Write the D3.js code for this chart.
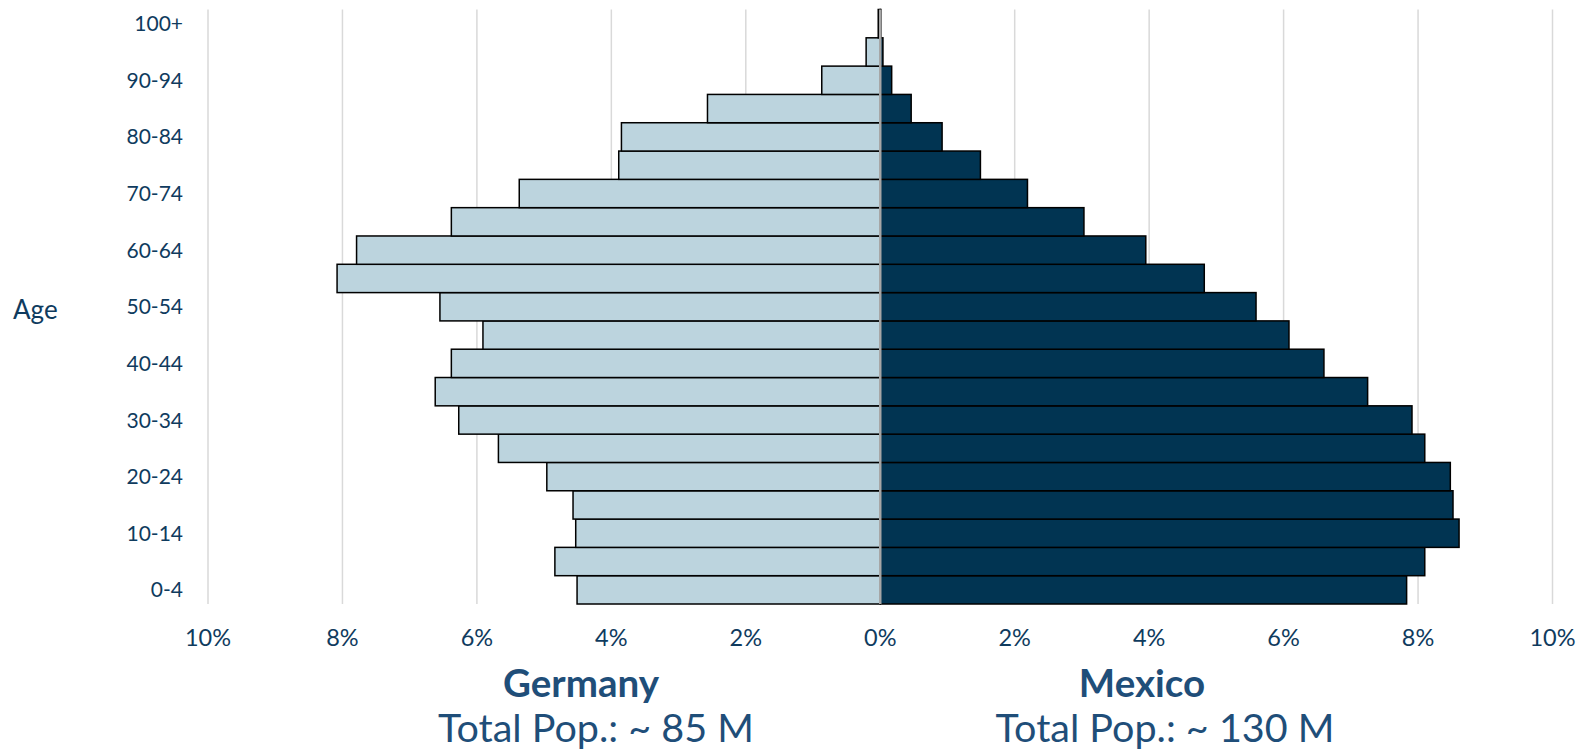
<!DOCTYPE html>
<html>
<head>
<meta charset="utf-8">
<script src="https://cdn.jsdelivr.net/npm/d3@7"></script>
<style>
  body { margin: 0; background: #fff; }
  svg { display: block; font-family: Lato, "Open Sans", sans-serif; }
  .tick-label { fill: #0f3b5e; font-size: 21px; }
  .x-label { fill: #0f3b5e; font-size: 23.5px; }
  .axis-title { fill: #0f3b5e; font-size: 26px; }
  .country { fill: #1f4e79; font-size: 38.5px; font-weight: bold; text-anchor: middle; }
  .total { fill: #1f4e79; font-size: 39.5px; text-anchor: middle; }
</style>
</head>
<body>
<div class="chart"></div>
<script>
  // age groups, bottom to top
  var ages = [
    "0-4", "5-9", "10-14", "15-19", "20-24", "25-29", "30-34", "35-39",
    "40-44", "45-49", "50-54", "55-59", "60-64", "65-69", "70-74",
    "75-79", "80-84", "85-89", "90-94", "95-99", "100+"
  ];
  // share of population, %
  var germany = [
    4.51, 4.84, 4.53, 4.57, 4.96, 5.68, 6.27, 6.62,
    6.38, 5.91, 6.55, 8.08, 7.79, 6.38, 5.37,
    3.89, 3.85, 2.57, 0.87, 0.21, 0.03
  ];
  var mexico = [
    7.83, 8.10, 8.61, 8.52, 8.48, 8.10, 7.91, 7.25,
    6.60, 6.08, 5.59, 4.82, 3.95, 3.03, 2.19,
    1.49, 0.92, 0.46, 0.17, 0.04, 0.01
  ];
  var xTicks = [-10, -8, -6, -4, -2, 0, 2, 4, 6, 8, 10];
  var countries = ["Germany", "Mexico"];
  var totals = ["Total Pop.: ~ 85 M", "Total Pop.: ~ 130 M"];

  var width = 1583, height = 752;
  var plot = {left: 208, right: 1552.5, top: 9.5, bottom: 604};

  var svg = d3.select(".chart")
    .append("svg")
    .attr("width", width)
    .attr("height", height);

  var x = d3.scaleLinear()
    .domain([-10, 10])
    .range([plot.left, plot.right]);

  var y = d3.scaleBand()
    .domain(ages)
    .range([plot.bottom, plot.top])
    .padding(0);

  // gridlines
  svg.append("g")
    .selectAll("line")
    .data(xTicks)
    .enter()
    .append("line")
    .attr("x1", function(d) { return x(d); })
    .attr("x2", function(d) { return x(d); })
    .attr("y1", plot.top)
    .attr("y2", plot.bottom)
    .attr("stroke", "#d9d9d9")
    .attr("stroke-width", 1.5);

  // germany bars (left)
  svg.append("g")
    .selectAll("rect")
    .data(germany)
    .enter()
    .append("rect")
    .attr("x", function(d) { return x(-d); })
    .attr("y", function(d, i) { return y(ages[i]); })
    .attr("width", function(d) { return x(0) - x(-d); })
    .attr("height", y.bandwidth())
    .attr("fill", "#bcd4de")
    .attr("stroke", "#000")
    .attr("stroke-width", 1.5);

  // mexico bars (right)
  svg.append("g")
    .selectAll("rect")
    .data(mexico)
    .enter()
    .append("rect")
    .attr("x", x(0))
    .attr("y", function(d, i) { return y(ages[i]); })
    .attr("width", function(d) { return x(d) - x(0); })
    .attr("height", y.bandwidth())
    .attr("fill", "#013452")
    .attr("stroke", "#000")
    .attr("stroke-width", 1.5);

  // zero line
  svg.append("line")
    .attr("x1", x(0))
    .attr("x2", x(0))
    .attr("y1", plot.top)
    .attr("y2", plot.bottom)
    .attr("stroke", "#a6a6a6")
    .attr("stroke-width", 2.5);

  // x tick labels
  svg.append("g")
    .selectAll("text")
    .data(xTicks)
    .enter()
    .append("text")
    .attr("class", "x-label")
    .attr("x", function(d) { return x(d); })
    .attr("y", 646)
    .attr("text-anchor", "middle")
    .text(function(d) { return Math.abs(d) + "%"; });

  // y tick labels, every other group
  svg.append("g")
    .selectAll("text")
    .data(ages.filter(function(d, i) { return i % 2 == 0; }))
    .enter()
    .append("text")
    .attr("class", "tick-label")
    .attr("x", 183)
    .attr("y", function(d) { return y(d) + y.bandwidth() / 2; })
    .attr("dy", "0.36em")
    .attr("text-anchor", "end")
    .text(function(d) { return d; });

  // axis title
  svg.append("text")
    .attr("class", "axis-title")
    .attr("x", 13)
    .attr("y", 319)
    .text("Age");

  // country captions
  var capX = [581, 1142];
  var totX = [596, 1165];
  svg.selectAll(".country")
    .data(countries)
    .enter()
    .append("text")
    .attr("class", "country")
    .attr("x", function(d, i) { return capX[i]; })
    .attr("y", 697)
    .text(function(d) { return d; });

  svg.selectAll(".total")
    .data(totals)
    .enter()
    .append("text")
    .attr("class", "total")
    .attr("x", function(d, i) { return totX[i]; })
    .attr("y", 742)
    .text(function(d) { return d; });
</script>
</body>
</html>
